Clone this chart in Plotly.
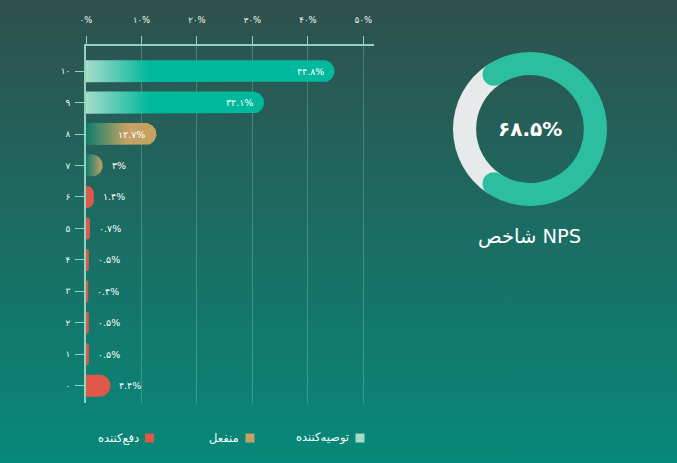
import base64

import numpy as np
import plotly.graph_objects as go

# ---------------------------------------------------------------------------
# Data
# ---------------------------------------------------------------------------

scores = [0, 1, 2, 3, 4, 5, 6, 7, 8, 9, 10]
score_labels = ["۰", "۱", "۲", "۳", "۴", "۵", "۶", "۷", "۸", "۹", "۱۰"]
shares = [4.4, 0.5, 0.5, 0.4, 0.5, 0.7, 1.4, 3.0, 12.7, 32.1, 44.8]
share_labels = ["۴.۴%", "۰.۵%", "۰.۵%", "۰.۴%", "۰.۵%", "۰.۷%", "۱.۴%",
                "۳%", "۱۲.۷%", "۳۲.۱%", "۴۴.۸%"]
x_ticks = [0, 10, 20, 30, 40, 50]
x_tick_labels = ["۰%", "۱۰%", "۲۰%", "۳۰%", "۴۰%", "۵۰%"]

detractor_scores = [0, 1, 2, 3, 4, 5, 6]
passive_scores = [7, 8]
promoter_scores = [9, 10]
group_names = ["دفع‌کننده", "منفعل", "توصیه‌کننده"]

nps_value = 68.5
nps_label = "۶۸.۵%"
nps_title = "شاخص NPS"

# ---------------------------------------------------------------------------
# Style
# ---------------------------------------------------------------------------

W, H = 677, 463
FONT = "DejaVu Sans"
MINT = "#a6dccb"
TEAL = "#00b89b"
TAN = "#c3a263"
TAN_START = "#0e7d6c"
RED = "#e05849"
AXIS = "#8fd3bd"
GRID = "rgba(143,211,189,0.33)"
TEXT = "#eef7f3"
RING = "#2cbea1"

X_PX = (86, 374)          # plot area, pixels
Y_PX = (46, 403)
X_RANGE = [0, 51.9]
Y_RANGE = [-0.55, 10.8]
BAR_W = 0.7
CAP_PX = 11
PX_PER_PCT = (X_PX[1] - X_PX[0]) / (X_RANGE[1] - X_RANGE[0])


def pill(v, yc):
    """Outline of a bar with a rounded right end, in data units."""
    rx = min(CAP_PX / PX_PER_PCT, v)
    h = BAR_W / 2
    t = np.linspace(-np.pi / 2, np.pi / 2, 31)
    xs = [0] + list(v - rx + rx * np.cos(t)) + [0]
    ys = [yc - h] + list(yc + h * np.sin(t)) + [yc + h]
    return xs, ys


fig = go.Figure()

# detractors: plain bars
det_x = [shares[scores.index(s)] for s in detractor_scores]
fig.add_trace(go.Bar(
    x=det_x, y=detractor_scores, orientation="h", width=BAR_W,
    marker=dict(color=RED, cornerradius=CAP_PX, line_width=0),
    showlegend=False, hoverinfo="skip",
))

# passives + promoters: gradient-filled bars
for s in passive_scores + promoter_scores:
    v = shares[scores.index(s)]
    xs, ys = pill(v, s)
    if s in promoter_scores:
        grad = dict(type="horizontal", colorscale=[[0, MINT], [1, TEAL]],
                    start=0, stop=11.5)
    else:
        grad = dict(type="horizontal", colorscale=[[0, TAN_START], [1, TAN]],
                    start=0, stop=min(7.3, v))
    fig.add_trace(go.Scatter(
        x=xs, y=ys, mode="lines", fill="toself", line=dict(width=0),
        fillgradient=grad, showlegend=False, hoverinfo="skip",
    ))

# value labels
for s, v, lab in zip(scores, shares, share_labels):
    inside = v >= 10
    fig.add_annotation(
        x=v, y=s, xref="x", yref="y", text=lab, showarrow=False,
        xanchor="right" if inside else "left",
        xshift=-9 if inside else 7,
        font=dict(family=FONT, size=9.5, color="white"),
    )

# NPS donut
pie_dom_x = [453 / W, 607 / W]
pie_dom_y = [(H - 206) / H, (H - 52) / H]
fig.add_trace(go.Pie(
    values=[nps_value, 100 - nps_value],
    hole=0.7, sort=False, direction="clockwise",
    rotation=-90 + (100 - nps_value) * 1.8,
    marker=dict(colors=[RING, "#e6eaea"], line=dict(width=0)),
    textinfo="none", hoverinfo="skip", showlegend=False,
    domain=dict(x=pie_dom_x, y=pie_dom_y),
))

# rounded caps on the donut arc
cx = (pie_dom_x[0] + pie_dom_x[1]) / 2 * W
cy = H - (pie_dom_y[0] + pie_dom_y[1]) / 2 * H
r_out = 77
r_in = r_out * 0.7
r_mid = (r_out + r_in) / 2
r_cap = (r_out - r_in) / 2
start = np.radians(-90 + (100 - nps_value) * 1.8)
end = start + np.radians(nps_value * 3.6)
for ang in (start, end):
    px = cx + r_mid * np.sin(ang)
    py = cy - r_mid * np.cos(ang)
    fig.add_shape(
        type="circle", xref="paper", yref="paper",
        x0=(px - r_cap) / W, x1=(px + r_cap) / W,
        y0=1 - (py + r_cap) / H, y1=1 - (py - r_cap) / H,
        fillcolor=RING, line_width=0, layer="above",
    )

fig.add_annotation(
    x=cx / W, y=1 - cy / H, xref="paper", yref="paper", text=f"<b>{nps_label}</b>",
    showarrow=False, xanchor="center", yanchor="middle",
    font=dict(family=FONT, size=20, color="white"),
)
fig.add_annotation(
    x=cx / W, y=1 - 236 / H, xref="paper", yref="paper", text=nps_title,
    showarrow=False, xanchor="center", yanchor="middle",
    font=dict(family=FONT, size=19.5, color="white"),
)

# legend (right-to-left: text then swatch)
legend_items = [
    (group_names[2], MINT, 360),
    (group_names[1], TAN, 250),
    (group_names[0], RED, 149.5),
]
for name, col, sx in legend_items:
    fig.add_shape(
        type="rect", xref="paper", yref="paper",
        x0=(sx - 4.5) / W, x1=(sx + 4.5) / W,
        y0=1 - 442.5 / H, y1=1 - 433.5 / H,
        fillcolor=col, line_width=0,
    )
    fig.add_annotation(
        x=(sx - 9) / W, y=1 - 437.5 / H, xref="paper", yref="paper",
        text=name, showarrow=False, xanchor="right", yanchor="middle",
        font=dict(family=FONT, size=11.5, color="white"),
    )

# background gradient
svg = (
    f'<svg xmlns="http://www.w3.org/2000/svg" width="{W}" height="{H}">'
    '<defs><linearGradient id="g" x1="0" y1="0" x2="0" y2="1">'
    '<stop offset="0" stop-color="#2f504c"/>'
    '<stop offset="1" stop-color="#07897a"/>'
    '</linearGradient></defs>'
    '<rect width="100%" height="100%" fill="url(#g)"/></svg>'
)
bg_src = "data:image/svg+xml;base64," + base64.b64encode(svg.encode()).decode()

fig.update_layout(
    width=W, height=H,
    margin=dict(l=0, r=0, t=0, b=0, pad=0, autoexpand=False),
    paper_bgcolor="#1b6d63",
    plot_bgcolor="rgba(0,0,0,0)",
    font=dict(family=FONT, color=TEXT),
    images=[dict(source=bg_src, xref="paper", yref="paper", x=0, y=1,
                 sizex=1, sizey=1, xanchor="left", yanchor="top",
                 sizing="stretch", layer="below")],
    xaxis=dict(
        domain=[X_PX[0] / W, X_PX[1] / W], range=X_RANGE, side="top",
        tickvals=x_ticks, ticktext=x_tick_labels,
        ticks="outside", ticklen=8, tickcolor=AXIS, tickwidth=1,
        ticklabelstandoff=10, automargin=False,
        showline=True, linecolor=AXIS, linewidth=1.5,
        showgrid=True, gridcolor=GRID, gridwidth=1, zeroline=False,
        tickfont=dict(size=8.5, color=TEXT), fixedrange=True,
    ),
    yaxis=dict(
        domain=[1 - Y_PX[1] / H, 1 - Y_PX[0] / H], range=Y_RANGE,
        tickvals=scores, ticktext=score_labels,
        ticks="outside", ticklen=9, tickcolor=AXIS, tickwidth=1,
        ticklabelstandoff=3, automargin=False,
        showline=True, linecolor=AXIS, linewidth=1.5,
        showgrid=False, zeroline=False,
        tickfont=dict(size=9, color=TEXT), fixedrange=True,
    ),
    bargap=0.3,
)

fig.write_html(
    "out.html",
    config={"displayModeBar": False},
    post_script=(
        "document.body.style.margin='0';"
        "document.body.style.overflow='hidden';"
        "var d=document.getElementById('{plot_id}');"
        "d.style.position='absolute';d.style.left='0px';d.style.top='0px';"
    ),
)
